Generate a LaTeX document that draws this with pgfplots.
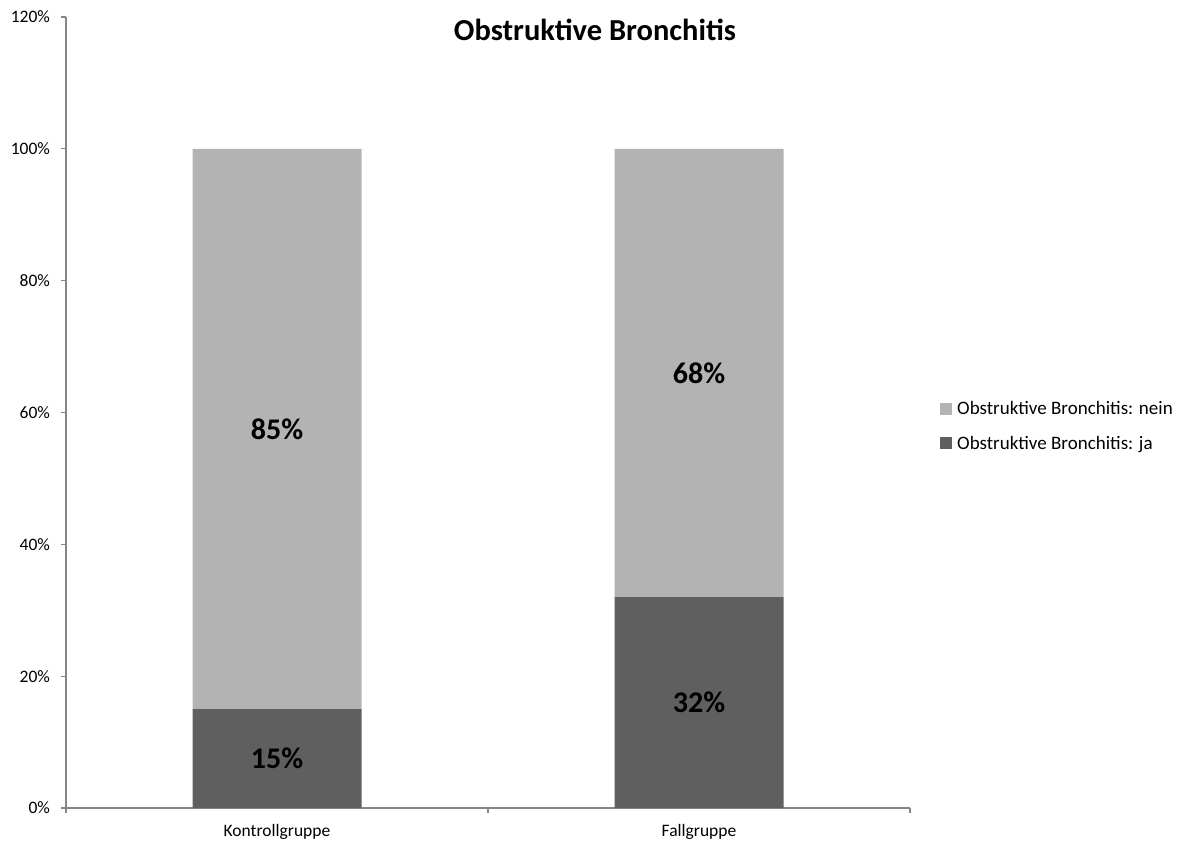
\documentclass[border=0pt]{standalone}
\usepackage{pgfplots}
\pgfplotsset{compat=1.18}
\usepackage{fontspec}
\setmainfont{Carlito}
\definecolor{darkbar}{HTML}{5F5F5F}
\definecolor{lightbar}{HTML}{B3B3B3}
\definecolor{axisgrey}{HTML}{868686}
\begin{document}
\begin{tikzpicture}
\path[use as bounding box] (0,0) rectangle (1189bp,843bp);
\begin{axis}[
  at={(66bp,35bp)}, anchor=south west,
  scale only axis,
  width=844bp, height=791bp,
  ybar stacked,
  bar width=169bp,
  xmin=-0.5, xmax=1.5,
  ymin=0, ymax=120,
  ytick={0,20,40,60,80,100,120},
  yticklabels={0\%,20\%,40\%,60\%,80\%,100\%,120\%},
  minor ytick={0,20,40,60,80,100,120},
  xtick={0,1},
  xticklabels={Kontrollgruppe,Fallgruppe},
  minor xtick={-0.5,0.5,1.5},
  axis x line*=bottom,
  axis y line*=left,
  axis line style={draw=axisgrey, line width=1.2bp},
  every tick/.style={draw=axisgrey, line width=1.2bp},
  tick align=outside,
  major tick length=0bp,
  minor tick length=5bp,
  ticklabel style={font=\fontsize{17.5bp}{21bp}\selectfont, text=black},
  yticklabel style={xshift=-12.5bp},
  xticklabel style={yshift=-13bp},
  reverse legend,
  legend style={
    at={(1.032,0.483)}, anchor=west,
    draw=none, fill=none,
    font=\fontsize{19bp}{23bp}\selectfont,
    row sep=16bp,
    /tikz/every odd column/.append style={column sep=3bp},
  },
  legend cell align=left,
  legend image code/.code={\draw[#1, draw=none] (0bp,-6bp) rectangle (12bp,6bp);},
  clip=false,
]
\addplot[fill=darkbar, draw=none] coordinates {(0,15) (1,32)};
\addlegendentry{Obstruktive Bronchitis: ja}
\addplot[fill=lightbar, draw=none] coordinates {(0,85) (1,68)};
\addlegendentry{Obstruktive Bronchitis: nein}
\coordinate (la) at (axis cs:0,7.5);
\coordinate (lb) at (axis cs:0,57.5);
\coordinate (lc) at (axis cs:1,16);
\coordinate (ld) at (axis cs:1,66);
\end{axis}
\node[font=\bfseries\fontsize{30bp}{34bp}\selectfont] at (la) {15\%};
\node[font=\bfseries\fontsize{30bp}{34bp}\selectfont] at (lb) {85\%};
\node[font=\bfseries\fontsize{30bp}{34bp}\selectfont] at (lc) {32\%};
\node[font=\bfseries\fontsize{30bp}{34bp}\selectfont] at (ld) {68\%};
\node[font=\bfseries\fontsize{30.5bp}{35bp}\selectfont] at (595bp,813bp) {Obstruktive Bronchitis};
\end{tikzpicture}
\end{document}
